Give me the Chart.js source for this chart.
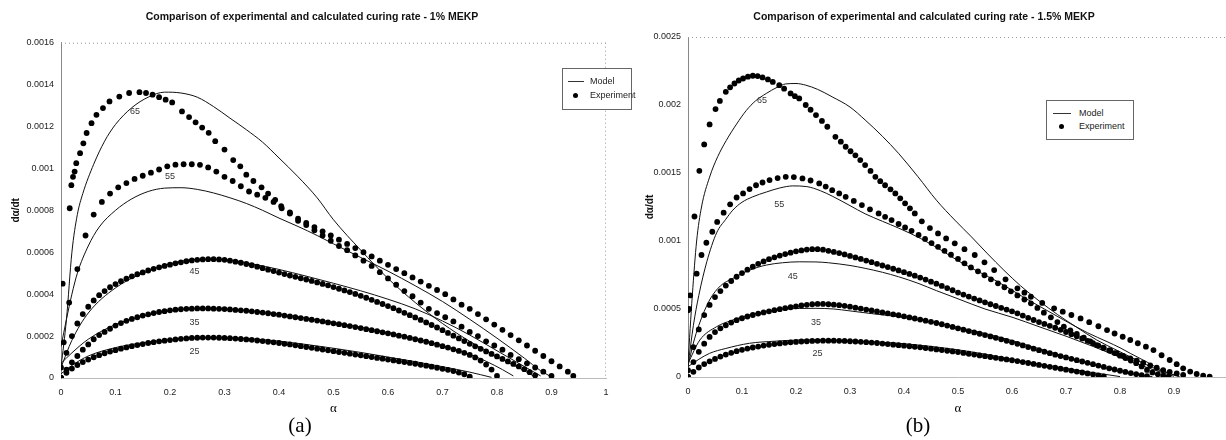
<!DOCTYPE html>
<html>
<head>
<meta charset="utf-8">
<script src="https://cdn.jsdelivr.net/npm/chart.js@4.4.0/dist/chart.umd.min.js"></script>
<style>
  body { margin:0; width:1226px; height:440px; overflow:hidden; background:#fff; position:relative; font-family:"Liberation Sans", Arial, sans-serif; }
  canvas { position:absolute; top:0; }
  #chartA { left:0; }
  #chartB { left:612px; }
  .title { position:absolute; top:10px; font-weight:bold; font-size:10.5px; color:#111; white-space:nowrap; transform:translateX(-50%); }
  .panel { position:absolute; top:413px; font-family:"Liberation Serif", serif; font-size:21px; color:#000; transform:translateX(-50%); }
  .legend { position:absolute; border:1px solid #666; background:#fff; font-size:9px; color:#222; }
  .legend .ln { position:absolute; height:1px; background:#333; }
  .legend .dot { position:absolute; width:5px; height:5px; border-radius:50%; background:#000; }
  .legend span { position:absolute; line-height:10px; }
</style>
</head>
<body>
<canvas id="chartA" width="620" height="440"></canvas>
<canvas id="chartB" width="620" height="440"></canvas>
<div class="title" style="left:312px">Comparison of experimental and calculated curing rate - 1% MEKP</div>
<div class="title" style="left:924px">Comparison of experimental and calculated curing rate - 1.5% MEKP</div>
<div class="legend" style="left:562px;top:68px;width:68px;height:40px">
  <div class="ln" style="left:5px;top:12px;width:16px"></div><span style="left:27px;top:7px">Model</span>
  <div class="dot" style="left:10px;top:24px"></div><span style="left:27px;top:21px">Experiment</span>
</div>
<div class="legend" style="left:1046px;top:100px;width:86px;height:38px">
  <div class="ln" style="left:6px;top:12px;width:18px"></div><span style="left:32px;top:7px">Model</span>
  <div class="dot" style="left:12px;top:23px"></div><span style="left:32px;top:20px">Experiment</span>
</div>
<div class="panel" style="left:300px">(a)</div>
<div class="panel" style="left:918px">(b)</div>
<script>
/* Curing rate dα/dt vs α, rates in units of 1e-5 */
const SCALE = 1e-5;

const xTicksA = [0, 0.1, 0.2, 0.3, 0.4, 0.5, 0.6, 0.7, 0.8, 0.9, 1];
const xTicksB = [0, 0.1, 0.2, 0.3, 0.4, 0.5, 0.6, 0.7, 0.8, 0.9];
const yTicksA = [0, 0.0002, 0.0004, 0.0006, 0.0008, 0.001, 0.0012, 0.0014, 0.0016];
const yTicksB = [0, 0.0005, 0.001, 0.0015, 0.002, 0.0025];

// alpha values where the dense experimental series were read
const alphaFine = [0, 0.01, 0.02, 0.03, 0.04, 0.05, 0.06, 0.07, 0.08, 0.09,
  0.1, 0.11, 0.12, 0.13, 0.14, 0.15, 0.16, 0.17, 0.18, 0.19,
  0.2, 0.21, 0.22, 0.23, 0.24, 0.25, 0.26, 0.27, 0.28, 0.29,
  0.3, 0.31, 0.32, 0.33, 0.34, 0.35, 0.36, 0.37, 0.38, 0.39,
  0.4, 0.41, 0.42, 0.43, 0.44, 0.45, 0.46, 0.47, 0.48, 0.49,
  0.5, 0.51, 0.52, 0.53, 0.54, 0.55, 0.56, 0.57, 0.58, 0.59,
  0.6, 0.61, 0.62, 0.63, 0.64, 0.65, 0.66, 0.67, 0.68, 0.69,
  0.7, 0.71, 0.72, 0.73, 0.74, 0.75, 0.76, 0.77, 0.78, 0.79,
  0.8, 0.81, 0.82, 0.83, 0.84, 0.85, 0.86, 0.87, 0.88, 0.89];

/* ---- (a) 1% MEKP ---- */
const exp25a = [0, 2.5, 4.5, 6.2, 7.6, 8.8, 9.9, 10.9, 11.8, 12.6,
  13.3, 14.0, 14.6, 15.2, 15.7, 16.2, 16.7, 17.1, 17.5, 17.8,
  18.1, 18.4, 18.7, 18.9, 19.1, 19.2, 19.3, 19.3, 19.3, 19.2,
  19.1, 19.0, 18.8, 18.6, 18.4, 18.2, 17.9, 17.6, 17.3, 17.0,
  16.7, 16.3, 16.0, 15.6, 15.2, 14.8, 14.4, 14.0, 13.6, 13.2,
  12.8, 12.4, 12.0, 11.6, 11.2, 10.8, 10.4, 10.0, 9.6, 9.2,
  8.8, 8.4, 8.0, 7.6, 7.2, 6.8, 6.3, 5.9, 5.4, 4.9,
  4.4, 3.9, 3.3, 2.6, 1.8, 0.6];
const exp35a = [0, 4, 7.5, 10.5, 13.5, 16, 18.5, 20.5, 22, 23.5,
  25, 26.2, 27.3, 28.2, 29, 29.8, 30.4, 31, 31.5, 31.9,
  32.3, 32.6, 32.8, 33, 33.1, 33.2, 33.2, 33.2, 33.1, 33,
  32.9, 32.7, 32.5, 32.3, 32.1, 31.8, 31.5, 31.2, 30.9, 30.5,
  30.2, 29.8, 29.4, 29.0, 28.6, 28.2, 27.8, 27.4, 27.0, 26.5,
  26.1, 25.7, 25.2, 24.8, 24.3, 23.8, 23.3, 22.8, 22.3, 21.8,
  21.3, 20.8, 20.2, 19.7, 19.1, 18.5, 17.9, 17.3, 16.6, 15.9,
  15.2, 14.5, 13.7, 12.9, 12.0, 11.0, 9.8, 8.3, 6.4, 4.0,
  1.0];
const exp45a = [0, 12, 20, 26, 30.5, 34, 37, 39.5, 41.5, 43.3,
  44.8, 46.2, 47.4, 48.5, 49.5, 50.4, 51.3, 52.1, 52.8, 53.5,
  54.1, 54.7, 55.2, 55.7, 56.1, 56.4, 56.6, 56.7, 56.7, 56.6,
  56.4, 56.0, 55.5, 55.0, 54.4, 53.8, 53.1, 52.4, 51.7, 51.0,
  50.3, 49.6, 48.9, 48.3, 47.6, 47.0, 46.3, 45.6, 44.9, 44.2,
  43.4, 42.6, 41.8, 41.0, 40.1, 39.2, 38.3, 37.3, 36.3, 35.3,
  34.3, 33.3, 32.2, 31.1, 30.0, 28.9, 27.7, 26.5, 25.3, 24.1,
  22.8, 21.5, 20.2, 18.9, 17.6, 16.3, 15.1, 13.9, 12.7, 11.5,
  10.3, 9.1, 7.9, 6.7, 5.5, 4.2, 2.8, 1.2];
const exp55a = [[0, 5], [0.005, 17], [0.015, 36], [0.03, 52], [0.045, 68], [0.06, 78], [0.075, 84], [0.09, 88],
  [0.105, 91], [0.12, 93], [0.135, 95], [0.15, 96.5], [0.165, 98], [0.18, 99.5], [0.195, 101], [0.21, 101.8],
  [0.225, 102], [0.24, 102], [0.255, 101.7], [0.27, 100.5], [0.285, 98.5], [0.3, 96], [0.315, 94], [0.33, 91.5],
  [0.345, 89], [0.36, 87.5], [0.375, 86], [0.39, 84], [0.405, 81], [0.42, 78.5], [0.435, 75], [0.45, 73],
  [0.465, 70.5], [0.48, 68], [0.495, 65.5], [0.51, 63], [0.525, 61], [0.54, 58.5], [0.555, 56], [0.57, 53.5],
  [0.585, 50.5], [0.6, 47.5], [0.615, 44.5], [0.63, 41.5], [0.645, 39], [0.66, 36], [0.675, 33], [0.69, 31],
  [0.705, 29], [0.72, 27], [0.735, 24.5], [0.75, 22], [0.765, 20], [0.78, 17.5], [0.795, 15.5], [0.81, 13.5],
  [0.825, 11], [0.84, 9], [0.855, 7], [0.87, 5], [0.885, 3], [0.9, 1]];
const exp65a = [[0.003, 45], [0.016, 81], [0.019, 92], [0.022, 96], [0.025, 98.5], [0.028, 102.5], [0.035, 107.3],
  [0.041, 112], [0.047, 116.9], [0.056, 121.6], [0.065, 125.6], [0.077, 128.8], [0.089, 132], [0.107, 134.3],
  [0.125, 136], [0.144, 136.4], [0.156, 136], [0.168, 135.2], [0.18, 134], [0.192, 132.8], [0.204, 131.5],
  [0.222, 127.2], [0.235, 124.5], [0.247, 122], [0.259, 119.5], [0.271, 117], [0.283, 113], [0.3, 109],
  [0.316, 104], [0.329, 101], [0.34, 97], [0.353, 94], [0.368, 91], [0.38, 88], [0.393, 85], [0.404, 82],
  [0.42, 79], [0.435, 76], [0.45, 74], [0.465, 72], [0.48, 70], [0.495, 68], [0.51, 66], [0.525, 64],
  [0.54, 62], [0.555, 60], [0.57, 58], [0.585, 56], [0.6, 54], [0.615, 52], [0.63, 50], [0.645, 48],
  [0.66, 46], [0.675, 44], [0.69, 42], [0.705, 40], [0.72, 37.5], [0.735, 35], [0.75, 33], [0.765, 30.5],
  [0.78, 28], [0.795, 25.5], [0.81, 23], [0.825, 20.5], [0.84, 18], [0.855, 15.5], [0.87, 13], [0.885, 10.5],
  [0.9, 8], [0.915, 5.5], [0.93, 3], [0.94, 1]];

const model25a = [[0, 2], [0.02, 6], [0.05, 10.5], [0.1, 14.5], [0.15, 16.8], [0.2, 18.3], [0.25, 19.1], [0.3, 19.2],
  [0.35, 18.7], [0.4, 17.6], [0.45, 16], [0.5, 14.2], [0.55, 12.2], [0.6, 10], [0.65, 7.8], [0.7, 5.4], [0.75, 2.8], [0.79, 0.3]];
const model35a = [[0, 7], [0.02, 12], [0.05, 18.5], [0.1, 25.5], [0.15, 29.5], [0.2, 32], [0.25, 33.2], [0.3, 33],
  [0.35, 32], [0.4, 30.5], [0.45, 28.6], [0.5, 26.5], [0.55, 24.2], [0.6, 21.7], [0.65, 18.8], [0.7, 15.4],
  [0.75, 11.2], [0.78, 8], [0.81, 4], [0.83, 1]];
const model45a = [[0, 5], [0.02, 18], [0.05, 31], [0.1, 43], [0.15, 50], [0.2, 54.5], [0.25, 56.6], [0.3, 56.5],
  [0.35, 54.5], [0.4, 51.8], [0.45, 48.6], [0.5, 45.2], [0.55, 41.6], [0.6, 37.6], [0.65, 33], [0.7, 27.2],
  [0.75, 20.5], [0.8, 13], [0.85, 5.5], [0.88, 1]];
const model55a = [[0, 15], [0.01, 28], [0.02, 40], [0.03, 50], [0.05, 63], [0.07, 72], [0.1, 80], [0.13, 85.5],
  [0.16, 89], [0.19, 90.6], [0.22, 90.8], [0.25, 90], [0.28, 88.3], [0.31, 86], [0.34, 83.3], [0.37, 80],
  [0.4, 76.3], [0.435, 72.3], [0.47, 68], [0.5, 64], [0.55, 57.5], [0.6, 51], [0.65, 44], [0.7, 36.5],
  [0.75, 28], [0.8, 19], [0.85, 9.5], [0.88, 3.5], [0.9, 0.5]];
const model65a = [[0, 5], [0.01, 28], [0.02, 60], [0.03, 78], [0.04, 88], [0.06, 102], [0.08, 113], [0.1, 121],
  [0.13, 129], [0.16, 134], [0.19, 136.4], [0.22, 136], [0.25, 134], [0.28, 129.5], [0.31, 124], [0.34, 118.5],
  [0.37, 112.5], [0.4, 105], [0.435, 96], [0.47, 86], [0.5, 75.5], [0.55, 61], [0.6, 47.5], [0.65, 36],
  [0.7, 26], [0.75, 17.5], [0.8, 10.2], [0.85, 3.5], [0.87, 0.5]];

/* ---- (b) 1.5% MEKP ---- */
const exp25b = [0, 3.8, 7, 9.5, 11.5, 13.3, 15, 16.5, 17.8, 19,
  20, 20.9, 21.7, 22.4, 23.1, 23.7, 24.2, 24.7, 25.1, 25.5,
  25.8, 26.1, 26.3, 26.5, 26.6, 26.7, 26.7, 26.7, 26.6, 26.5,
  26.3, 26.1, 25.9, 25.6, 25.3, 25.0, 24.6, 24.2, 23.8, 23.4,
  23.0, 22.6, 22.2, 21.8, 21.3, 20.8, 20.3, 19.8, 19.3, 18.8,
  18.3, 17.7, 17.1, 16.5, 15.9, 15.3, 14.7, 14.1, 13.5, 12.9,
  12.3, 11.7, 11.0, 10.3, 9.6, 8.9, 8.2, 7.5, 6.8, 6.1,
  5.4, 4.7, 4.0, 3.3, 2.6, 1.9, 1.2, 0.4];
const exp35b = [0, 11, 18.5, 24.5, 29.5, 33, 35.8, 38, 40, 41.8,
  43.2, 44.5, 45.6, 46.6, 47.5, 48.3, 49.1, 49.9, 50.6, 51.3,
  52, 52.6, 53.1, 53.5, 53.7, 53.7, 53.5, 53.2, 52.8, 52.3,
  51.7, 51.0, 50.3, 49.6, 48.9, 48.2, 47.5, 46.8, 46.1, 45.4,
  44.6, 43.8, 43.0, 42.2, 41.4, 40.6, 39.7, 38.8, 37.8, 36.8,
  35.8, 34.8, 33.8, 32.8, 31.8, 30.8, 29.8, 28.8, 27.7, 26.6,
  25.5, 24.4, 23.2, 22.0, 20.8, 19.7, 18.6, 17.5, 16.4, 15.4,
  14.4, 13.4, 12.4, 11.4, 10.4, 9.4, 8.4, 7.4, 6.4, 5.5,
  4.6, 3.7, 2.9, 2.1, 1.4, 0.7];
const exp45b = [5, 22, 35, 45.5, 53, 58.8, 63.2, 67.2, 70.6, 73.7,
  76.4, 78.9, 81.1, 83.2, 85, 86.6, 88, 89.3, 90.4, 91.4,
  92.4, 93.1, 93.7, 94.0, 94.0, 93.6, 92.8, 92.0, 91.1, 90.1,
  89.0, 87.9, 86.8, 85.6, 84.4, 83.2, 82.0, 80.8, 79.6, 78.4,
  77.1, 75.8, 74.5, 73.1, 71.6, 70.1, 68.6, 67.0, 65.4, 63.8,
  62.1, 60.6, 59.1, 57.7, 56.3, 54.9, 53.5, 52.2, 50.9, 49.6,
  48.3, 46.8, 45.2, 43.5, 41.9, 40.4, 39.0, 37.6, 36.2, 34.7,
  33.1, 31.5, 29.9, 28.3, 26.6, 24.9, 23.1, 21.3, 19.5, 17.6,
  15.7, 13.9, 12.1, 10.2, 7.8, 5.2, 3.4, 2.0, 1.0, 0.3];
const exp55b = [[0, 49], [0.004, 60], [0.016, 76], [0.025, 89.7], [0.034, 98.7], [0.045, 106.8], [0.054, 114],
  [0.066, 120.8], [0.078, 127], [0.09, 132], [0.102, 135], [0.114, 138.2], [0.126, 141], [0.138, 143],
  [0.151, 144.8], [0.166, 146.3], [0.181, 147.2], [0.196, 147], [0.212, 146], [0.227, 144.5], [0.243, 142.3],
  [0.255, 140], [0.267, 137.4], [0.28, 135], [0.292, 132.5], [0.307, 129.5], [0.322, 126.4], [0.337, 123.3],
  [0.353, 120.3], [0.365, 117.8], [0.377, 115.4], [0.39, 112.5], [0.402, 110], [0.414, 107.5], [0.427, 104.5],
  [0.439, 101.5], [0.451, 98.5], [0.463, 95.7], [0.475, 92.8], [0.487, 89.9], [0.5, 86.8], [0.512, 83.6],
  [0.524, 80.6], [0.537, 77.7], [0.549, 74.8], [0.561, 71.8], [0.574, 68.9], [0.586, 66], [0.598, 63],
  [0.61, 60], [0.623, 57], [0.635, 54.2], [0.647, 50.8], [0.659, 47.3], [0.672, 43.9], [0.684, 40.4],
  [0.696, 37], [0.708, 34.3], [0.72, 31.6], [0.733, 28.9], [0.745, 26.2], [0.757, 23.5], [0.769, 21.5],
  [0.782, 19.5], [0.794, 17.6], [0.806, 15.6], [0.819, 13.7], [0.831, 12], [0.843, 10.3], [0.856, 8.6],
  [0.868, 6.8], [0.88, 5.1], [0.892, 3.8], [0.905, 2.6], [0.917, 1.5]];
const exp65b = [[0.002, 50], [0.012, 118], [0.021, 151.6], [0.03, 171], [0.04, 185.7], [0.051, 197], [0.059, 203],
  [0.07, 209.7], [0.078, 213], [0.086, 215.8], [0.094, 218], [0.102, 219.5], [0.111, 220.8], [0.12, 221.5],
  [0.129, 221.3], [0.138, 220.3], [0.148, 218.8], [0.157, 217], [0.169, 214.6], [0.178, 212], [0.19, 208.5],
  [0.198, 206.5], [0.206, 204.8], [0.218, 200], [0.227, 196.5], [0.237, 192.6], [0.248, 188.3], [0.258, 184],
  [0.273, 176.6], [0.283, 173], [0.292, 169.3], [0.301, 166], [0.31, 163], [0.319, 159.5], [0.328, 155.8],
  [0.338, 151.5], [0.347, 147.2], [0.356, 144], [0.365, 141], [0.375, 138], [0.384, 135], [0.393, 131.4],
  [0.402, 127.7], [0.411, 124], [0.42, 120.3], [0.433, 114.5], [0.448, 109.5], [0.463, 105.6], [0.478, 101.9],
  [0.494, 98.3], [0.512, 94], [0.531, 89.7], [0.549, 84.3], [0.567, 78.6], [0.588, 71.8], [0.61, 65.2],
  [0.623, 62], [0.635, 59], [0.656, 54.5], [0.678, 50.5], [0.694, 48], [0.71, 45.6], [0.727, 43.1],
  [0.743, 40.3], [0.76, 37.3], [0.776, 34.5], [0.79, 32], [0.805, 29.6], [0.819, 27.2], [0.833, 24.8],
  [0.848, 22.3], [0.862, 19.8], [0.877, 16], [0.892, 12.5], [0.905, 9.4], [0.917, 6.4], [0.93, 4],
  [0.942, 2.2], [0.954, 1], [0.966, 0.2]];

const model25b = [[0, 7.6], [0.02, 13], [0.04, 17.4], [0.07, 21], [0.114, 24.8], [0.16, 26.3], [0.206, 27.2],
  [0.25, 27.3], [0.298, 26.7], [0.35, 25.7], [0.39, 24.8], [0.45, 22.5], [0.5, 20], [0.55, 16.8], [0.6, 13],
  [0.65, 9.5], [0.7, 6.3], [0.75, 3.2], [0.78, 1.5], [0.8, 0.3]];
const model35b = [[0, 10], [0.022, 27.2], [0.053, 37], [0.08, 41.5], [0.114, 45.6], [0.145, 48], [0.175, 49.7],
  [0.206, 50.4], [0.237, 50.5], [0.27, 50], [0.298, 48.7], [0.34, 46.6], [0.39, 44.3], [0.45, 40.5], [0.5, 36.5],
  [0.55, 32], [0.6, 26.8], [0.65, 20.8], [0.7, 14.8], [0.75, 9], [0.8, 4.2], [0.83, 1.8], [0.86, 0.3]];
const model45b = [[0, 8], [0.01, 25], [0.02, 38], [0.04, 56.6], [0.06, 67], [0.083, 72.5], [0.114, 78.6],
  [0.145, 82.3], [0.175, 84], [0.206, 84.7], [0.237, 84.6], [0.26, 84], [0.3, 82], [0.328, 79.9], [0.36, 77],
  [0.39, 73.7], [0.426, 68.9], [0.46, 63.5], [0.5, 57.5], [0.55, 50], [0.6, 44], [0.65, 37], [0.7, 30],
  [0.75, 22.5], [0.8, 14.5], [0.85, 7], [0.88, 3], [0.9, 0.5]];
const model55b = [[0, 8], [0.01, 38], [0.02, 60], [0.035, 85], [0.053, 106], [0.07, 116], [0.083, 122.7],
  [0.1, 128.5], [0.12, 132.5], [0.145, 136], [0.17, 139], [0.194, 140.5], [0.22, 140], [0.245, 137],
  [0.267, 133], [0.3, 126], [0.328, 120], [0.36, 114.5], [0.39, 109.5], [0.43, 102], [0.47, 93], [0.5, 85.5],
  [0.54, 77], [0.574, 70], [0.62, 59], [0.66, 50], [0.696, 41.9], [0.74, 32.5], [0.776, 26], [0.8, 21.5],
  [0.819, 17.4], [0.85, 11], [0.875, 5.5], [0.9, 1.5], [0.91, 0.3]];
const model65b = [[0, 10], [0.008, 60], [0.016, 100], [0.025, 125], [0.04, 147], [0.055, 162], [0.071, 174],
  [0.09, 186], [0.108, 196], [0.125, 203], [0.145, 208.5], [0.165, 213], [0.181, 215.5], [0.2, 215.8],
  [0.218, 214.6], [0.24, 211.5], [0.267, 206], [0.3, 198.5], [0.328, 189], [0.36, 177], [0.39, 164.4],
  [0.426, 147.2], [0.46, 130], [0.494, 115.4], [0.525, 103], [0.555, 90.5], [0.585, 78.5], [0.616, 67],
  [0.65, 56], [0.684, 46], [0.72, 36.5], [0.757, 27.2], [0.795, 19.5], [0.831, 12.5], [0.86, 7],
  [0.88, 3.9], [0.91, 0.5]];

// temperature labels written next to the curves: [text, alpha, rate]
const tempLabelsA = [['65', 0.136, 127], ['55', 0.2, 96], ['45', 0.245, 51], ['35', 0.245, 26.4], ['25', 0.245, 12.6]];
const tempLabelsB = [['65', 0.137, 203], ['55', 0.169, 127], ['45', 0.194, 74], ['35', 0.237, 40], ['25', 0.24, 17.4]];

const FONT = '"Liberation Sans", Arial, sans-serif';

function fromGrid(rates) { return rates.map((v, i) => ({ x: alphaFine[i], y: v * SCALE })); }
function fromPairs(list) { return list.map(([a, v]) => ({ x: a, y: v * SCALE })); }

function expSet(data) {
  return { data, showLine: false, pointRadius: 2.9, pointBackgroundColor: '#000', pointBorderWidth: 0, order: 1 };
}
function modelSet(data) {
  return { data, showLine: true, borderColor: '#111', borderWidth: 1, pointRadius: 0, cubicInterpolationMode: 'monotone', order: 2 };
}

const frame = {
  id: 'frame',
  beforeDatasetsDraw(chart) {
    const { ctx, chartArea: a } = chart;
    ctx.save();
    ctx.strokeStyle = '#999';
    ctx.lineWidth = 1;
    ctx.setLineDash([1, 3]);
    ctx.beginPath();
    ctx.moveTo(a.left, a.top + 0.5); ctx.lineTo(a.right, a.top + 0.5);
    ctx.moveTo(a.right - 0.5, a.top); ctx.lineTo(a.right - 0.5, a.bottom);
    ctx.stroke();
    ctx.restore();
  }
};

const curveLabels = {
  id: 'curveLabels',
  afterDatasetsDraw(chart, args, opts) {
    const { ctx, scales: { x, y } } = chart;
    ctx.save();
    ctx.font = '9px ' + FONT;
    ctx.fillStyle = '#333';
    ctx.textAlign = 'center';
    ctx.textBaseline = 'middle';
    (opts.items || []).forEach(([t, a, v]) => ctx.fillText(t, x.getPixelForValue(a), y.getPixelForValue(v * SCALE)));
    ctx.restore();
  }
};

function makeChart(id, cfg) {
  return new Chart(document.getElementById(id), {
    type: 'scatter',
    data: { datasets: cfg.datasets },
    options: {
      responsive: false,
      animation: false,
      layout: { padding: cfg.padding },
      plugins: { legend: { display: false }, tooltip: { enabled: false }, curveLabels: { items: cfg.labels } },
      scales: {
        x: {
          type: 'linear', min: 0, max: 1,
          afterBuildTicks: s => { s.ticks = cfg.xTicks.map(v => ({ value: v })); },
          afterFit: s => { s.height = cfg.xHeight; },
          grid: { display: false, drawTicks: false },
          border: { color: '#bbb', dash: [1, 3] },
          ticks: { padding: 9, color: '#222', font: { size: 9, family: FONT }, callback: v => String(+v.toFixed(1)) },
          title: { display: true, text: 'α', color: '#000', font: { size: 13, family: '"Liberation Serif", serif' }, padding: { top: 0, bottom: 24 } }
        },
        y: {
          type: 'linear', min: 0, max: cfg.yMax,
          afterBuildTicks: s => { s.ticks = cfg.yTicks.map(v => ({ value: v })); },
          afterFit: s => { s.width = cfg.yWidth; },
          grid: { display: false, drawTicks: false },
          border: { color: '#888', dash: [1, 2] },
          ticks: { padding: 7, color: '#222', font: { size: 9, family: FONT }, callback: v => String(+v.toFixed(4)) },
          title: { display: true, text: 'dα/dt', color: '#111', font: { size: 10, weight: 'bold', family: FONT }, padding: { top: 4, bottom: 0 } }
        }
      }
    },
    plugins: [frame, curveLabels]
  });
}

makeChart('chartA', {
  padding: { left: 6, right: 14, top: 42.7, bottom: 0 },
  xTicks: xTicksA, yTicks: yTicksA, yMax: 0.0016, xHeight: 62, yWidth: 55, labels: tempLabelsA,
  datasets: [
    modelSet(fromPairs(model25a)), modelSet(fromPairs(model35a)), modelSet(fromPairs(model45a)),
    modelSet(fromPairs(model55a)), modelSet(fromPairs(model65a)),
    expSet(fromGrid(exp25a)), expSet(fromGrid(exp35a)), expSet(fromGrid(exp45a)),
    expSet(fromPairs(exp55a)), expSet(fromPairs(exp65a))
  ]
});

makeChart('chartB', {
  padding: { left: 28, right: 0, top: 37, bottom: 0 },
  xTicks: xTicksB, yTicks: yTicksB, yMax: 0.0025, xHeight: 63, yWidth: 48, labels: tempLabelsB,
  datasets: [
    modelSet(fromPairs(model25b)), modelSet(fromPairs(model35b)), modelSet(fromPairs(model45b)),
    modelSet(fromPairs(model55b)), modelSet(fromPairs(model65b)),
    expSet(fromGrid(exp25b)), expSet(fromGrid(exp35b)), expSet(fromGrid(exp45b)),
    expSet(fromPairs(exp55b)), expSet(fromPairs(exp65b))
  ]
});
</script>
</body>
</html>
